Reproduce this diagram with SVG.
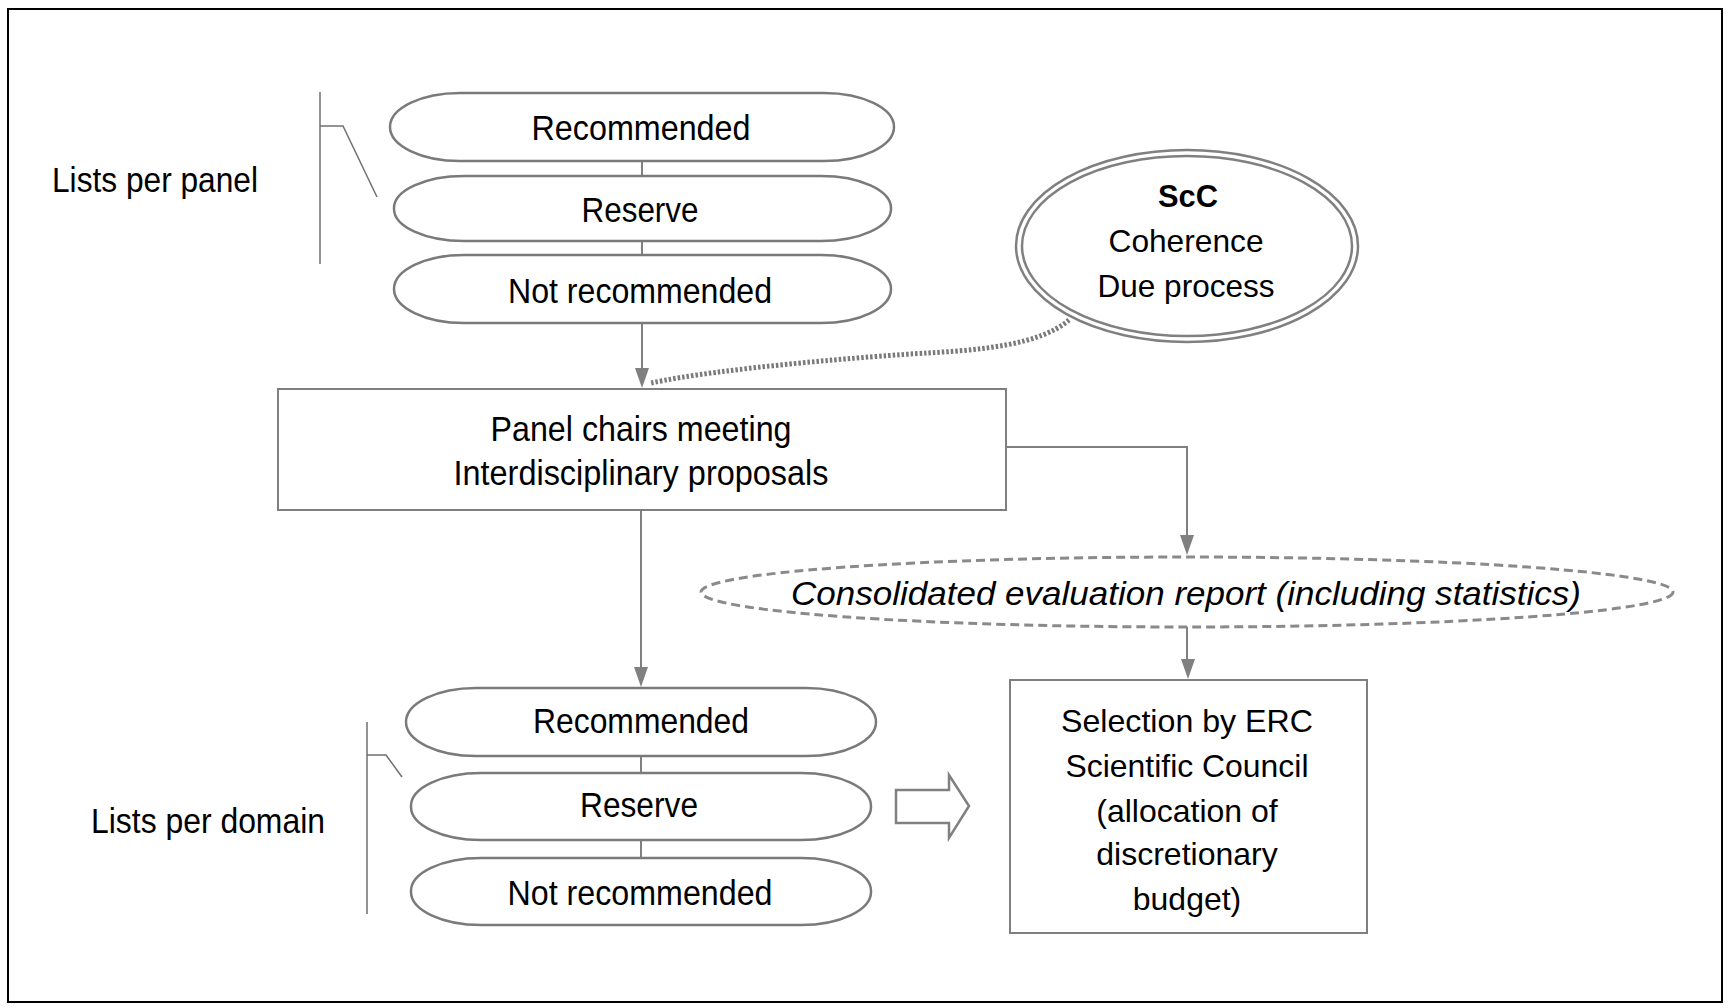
<svg xmlns="http://www.w3.org/2000/svg" width="1731" height="1008" viewBox="0 0 1731 1008">
<style>
.t{font-family:"Liberation Sans",Arial,sans-serif;font-size:35px;fill:#000;text-anchor:middle}
.w{font-family:"Liberation Sans",Arial,sans-serif;font-size:32px;fill:#000;text-anchor:middle}
.pill{fill:#fff;stroke:#7a7a7a;stroke-width:2.5}
.box{fill:#fff;stroke:#7f7f7f;stroke-width:2}
.ln{fill:none;stroke:#808080;stroke-width:2}
.head{fill:#808080}
</style>
<rect x="0" y="0" width="1731" height="1008" fill="#fff"/>
<rect x="8" y="9" width="1714" height="993" fill="none" stroke="#000" stroke-width="2"/>

<g id="connectors">
<line class="ln" x1="642" y1="161" x2="642" y2="176"/>
<line class="ln" x1="642" y1="241" x2="642" y2="255"/>
<path class="ln" d="M642,323 V370"/>
<path d="M1069,320 C1040,345 980,350 927,353 S720,368 651,383" fill="none" stroke="#7a7a7a" stroke-width="5" stroke-dasharray="2.5 2"/>
<path class="ln" d="M641,510 V670"/>
<path class="ln" d="M1006,447 H1187 V540"/>
<path class="ln" d="M1187,627 V662"/>
<line class="ln" x1="641" y1="756" x2="641" y2="773"/>
<line class="ln" x1="641" y1="840" x2="641" y2="858"/>
<path class="head" d="M635,368 L649,368 L642,388 Z"/>
<path class="head" d="M634,667 L648,667 L641,687 Z"/>
<path class="head" d="M1180,535 L1194,535 L1187,555 Z"/>
<path class="head" d="M1181,659 L1195,659 L1188,679 Z"/>
</g>

<g id="bracket-panel">
<path d="M320,92 V264 M320,126 H343 L377,197" fill="none" stroke="#707070" stroke-width="1.5"/>
<text class="t" x="155" y="192" textLength="206" lengthAdjust="spacingAndGlyphs">Lists per panel</text>
</g>

<g id="panel-recommended">
<rect class="pill" x="390" y="93" width="504" height="68" rx="70" ry="34"/>
<text class="t" x="641" y="140" textLength="219" lengthAdjust="spacingAndGlyphs">Recommended</text>
</g>
<g id="panel-reserve">
<rect class="pill" x="394" y="176" width="497" height="65" rx="70" ry="32"/>
<text class="t" x="640" y="222" textLength="117" lengthAdjust="spacingAndGlyphs">Reserve</text>
</g>
<g id="panel-not-recommended">
<rect class="pill" x="394" y="255" width="497" height="68" rx="70" ry="34"/>
<text class="t" x="640" y="303" textLength="264" lengthAdjust="spacingAndGlyphs">Not recommended</text>
</g>

<g id="scc">
<ellipse cx="1187" cy="246" rx="171" ry="96" fill="#fff" stroke="#808080" stroke-width="2.5"/>
<ellipse cx="1187" cy="246" rx="165" ry="90" fill="none" stroke="#808080" stroke-width="2.5"/>
<text x="1188" y="207" font-family="Liberation Sans,Arial,sans-serif" font-size="31" font-weight="bold" text-anchor="middle" textLength="60" lengthAdjust="spacingAndGlyphs">ScC</text>
<text class="w" x="1186" y="252" textLength="155" lengthAdjust="spacingAndGlyphs">Coherence</text>
<text class="w" x="1186" y="297" textLength="177" lengthAdjust="spacingAndGlyphs">Due process</text>
</g>

<g id="panel-chairs">
<rect class="box" x="278" y="389" width="728" height="121"/>
<text class="t" x="641" y="441" textLength="301" lengthAdjust="spacingAndGlyphs">Panel chairs meeting</text>
<text class="t" x="641" y="485" textLength="375" lengthAdjust="spacingAndGlyphs">Interdisciplinary proposals</text>
</g>

<g id="consolidated">
<ellipse cx="1187" cy="592" rx="486" ry="35" fill="#fff" stroke="#8a8a8a" stroke-width="3" stroke-dasharray="9 5"/>
<text x="1186" y="605" font-family="Liberation Sans,Arial,sans-serif" font-size="34" font-style="italic" text-anchor="middle" textLength="790" lengthAdjust="spacingAndGlyphs">Consolidated evaluation report (including statistics)</text>
</g>

<g id="bracket-domain">
<path d="M367,722 V914 M367,755 H386 L402,777" fill="none" stroke="#707070" stroke-width="1.5"/>
<text class="t" x="208" y="833" textLength="234" lengthAdjust="spacingAndGlyphs">Lists per domain</text>
</g>

<g id="domain-recommended">
<rect class="pill" x="406" y="688" width="470" height="68" rx="70" ry="34"/>
<text class="t" x="641" y="733" textLength="216" lengthAdjust="spacingAndGlyphs">Recommended</text>
</g>
<g id="domain-reserve">
<rect class="pill" x="411" y="773" width="460" height="67" rx="70" ry="33"/>
<text class="t" x="639" y="817" textLength="118" lengthAdjust="spacingAndGlyphs">Reserve</text>
</g>
<g id="domain-not-recommended">
<rect class="pill" x="411" y="858" width="460" height="67" rx="70" ry="33"/>
<text class="t" x="640" y="905" textLength="265" lengthAdjust="spacingAndGlyphs">Not recommended</text>
</g>

<g id="hollow-arrow">
<path d="M896,790 H949 V775 L969,806 L949,838 V823 H896 Z" fill="#fff" stroke="#808080" stroke-width="2.5"/>
</g>

<g id="selection">
<rect class="box" x="1010" y="680" width="357" height="253"/>
<text class="w" x="1187" y="732" textLength="252" lengthAdjust="spacingAndGlyphs">Selection by ERC</text>
<text class="w" x="1187" y="777" textLength="243" lengthAdjust="spacingAndGlyphs">Scientific Council</text>
<text class="w" x="1187" y="822">(allocation of</text>
<text class="w" x="1187" y="865">discretionary</text>
<text class="w" x="1187" y="910">budget)</text>
</g>
</svg>
